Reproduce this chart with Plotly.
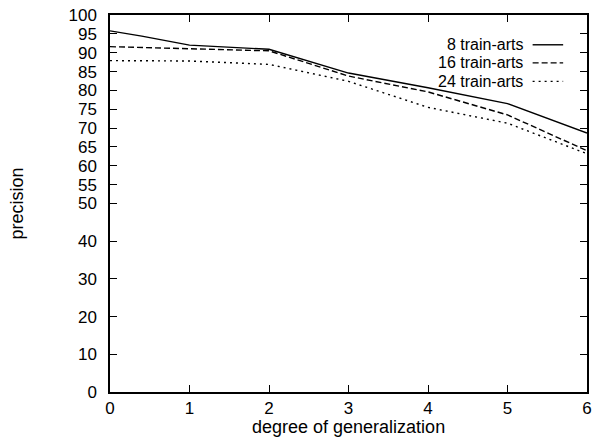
import plotly.graph_objects as go

x_8 = [0, 0.4, 1, 2, 3, 4, 5, 6]
y_8 = [95.8, 94.4, 92.0, 90.9, 84.6, 80.7, 76.5, 68.7]

x_16 = [0, 1, 2, 3, 4, 5, 6]
y_16 = [91.6, 91.0, 90.5, 83.8, 79.6, 73.5, 64.0]

x_24 = [0, 1, 2, 3, 4, 5, 6]
y_24 = [87.9, 87.8, 86.9, 82.4, 75.5, 71.3, 63.2]

series_names = ["8 train-arts", "16 train-arts", "24 train-arts"]
y_ticks = [0, 10, 20, 30, 40, 50, 55, 60, 65, 70, 75, 80, 85, 90, 95, 100]
x_ticks = [0, 1, 2, 3, 4, 5, 6]

dashes = ["solid", "6px,3px", "2px,4px"]
FONT = "Liberation Sans, Arial, Helvetica, sans-serif"

fig = go.Figure()
for xs, ys, name, d in zip([x_8, x_16, x_24], [y_8, y_16, y_24], series_names, dashes):
    fig.add_trace(go.Scatter(x=xs, y=ys, mode="lines", name=name,
                             line=dict(color="black", width=1.4, dash=d),
                             showlegend=False))

# custom legend: text on the left, line sample on the right
leg_y = [0.921, 0.873, 0.824]
for name, d, yy in zip(series_names, dashes, leg_y):
    fig.add_annotation(xref="paper", yref="paper", x=0.867, y=yy, text=name,
                       showarrow=False, xanchor="right", yanchor="middle",
                       borderpad=0, font=dict(family=FONT, size=16, color="black"))
    fig.add_shape(type="line", xref="paper", yref="paper", x0=0.886, x1=0.950,
                  y0=yy, y1=yy, line=dict(color="black", width=1.4, dash=d))

fig.add_annotation(xref="paper", yref="paper", x=0.5, y=-0.093,
                   text="degree of generalization", showarrow=False,
                   xanchor="center", yanchor="middle",
                   font=dict(family=FONT, size=18, color="black"))
fig.add_annotation(xref="paper", yref="paper", x=-0.197, y=0.5,
                   text="precision", showarrow=False, textangle=-90,
                   xanchor="center", yanchor="middle",
                   font=dict(family=FONT, size=18, color="black"))

axis_common = dict(showline=True, linecolor="black", linewidth=1.5, mirror="ticks",
                   ticks="inside", ticklen=7, tickwidth=1.3, tickcolor="black",
                   showgrid=False, zeroline=False,
                   tickfont=dict(family=FONT, size=17, color="black"))

fig.update_xaxes(range=[0, 6], tickvals=x_ticks, **axis_common)
fig.update_yaxes(range=[0, 100], tickvals=y_ticks, ticklabelstandoff=8, **axis_common)

fig.update_layout(width=598, height=437,
                  margin=dict(l=110, r=6, t=15, b=45),
                  paper_bgcolor="white", plot_bgcolor="white",
                  font=dict(family=FONT, size=17, color="black"))

fig.write_html("out.html", config={"displayModeBar": False},
               post_script="document.body.style.margin='0';document.body.style.padding='0';")
